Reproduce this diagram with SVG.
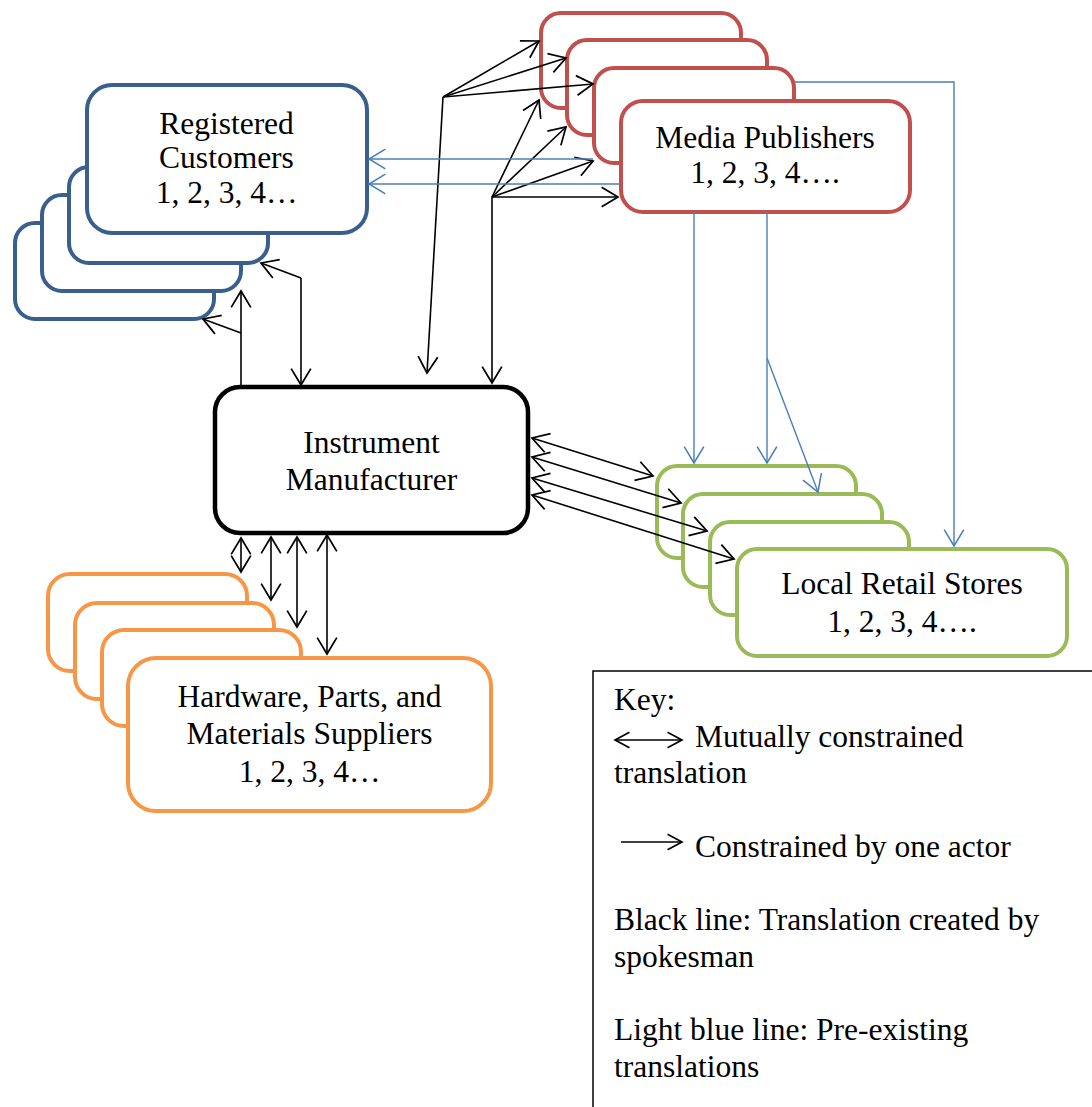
<svg xmlns="http://www.w3.org/2000/svg" width="1092" height="1107" viewBox="0 0 1092 1107">
<style>
.t{font-family:"Liberation Serif","Times New Roman",serif;font-size:31.5px;fill:#000;text-anchor:middle}
.k{font-family:"Liberation Serif","Times New Roman",serif;font-size:31.5px;fill:#000}
.blue{fill:#fff;stroke:#3A5F8D;stroke-width:4}
.red{fill:#fff;stroke:#C0504D;stroke-width:4}
.green{fill:#fff;stroke:#9BBB59;stroke-width:4}
.orange{fill:#fff;stroke:#F79646;stroke-width:4}
.blk{fill:none;stroke:#000;stroke-width:1.6}
.lb{fill:none;stroke:#4A7EBB;stroke-width:1.4}
</style>
<defs>
<marker id="ah" markerUnits="userSpaceOnUse" markerWidth="24" markerHeight="24" refX="0" refY="0" viewBox="-17 -11 19 22" orient="auto-start-reverse" overflow="visible">
<path d="M-15,-9 L0,0 L-15,9" fill="none" stroke="#000" stroke-width="1.6"/>
</marker>
<marker id="ahb" markerUnits="userSpaceOnUse" markerWidth="24" markerHeight="24" refX="0" refY="0" viewBox="-17 -11 19 22" orient="auto-start-reverse" overflow="visible">
<path d="M-15,-9 L0,0 L-15,9" fill="none" stroke="#4A7EBB" stroke-width="1.4"/>
</marker>
<marker id="ahk" markerUnits="userSpaceOnUse" markerWidth="20" markerHeight="20" refX="0" refY="0" viewBox="-15 -9 16 18" orient="auto-start-reverse" overflow="visible">
<path d="M-13,-7 L0,0 L-13,7" fill="none" stroke="#000" stroke-width="1.5"/>
</marker>
</defs>

<g id="registered-customers">
<rect class="blue" x="15" y="223" width="199" height="96" rx="20"/>
<rect class="blue" x="42" y="195" width="199" height="96" rx="20"/>
<rect class="blue" x="69" y="167" width="199" height="96" rx="20"/>
<rect class="blue" x="87" y="85" width="280" height="148" rx="25"/>
<text class="t" x="226.5" y="134">Registered</text>
<text class="t" x="226.5" y="168">Customers</text>
<text class="t" x="226.5" y="203">1, 2, 3, 4…</text>
</g>

<g id="media-publishers">
<rect class="red" x="541" y="13" width="200" height="95" rx="20"/>
<rect class="red" x="567" y="40" width="200" height="95" rx="20"/>
<rect class="red" x="594" y="68" width="200" height="95" rx="20"/>
<rect class="red" x="621" y="101" width="289" height="111" rx="22"/>
<text class="t" x="765" y="148">Media Publishers</text>
<text class="t" x="765" y="183">1, 2, 3, 4….</text>
</g>

<g id="local-retail-stores">
<rect class="green" x="657" y="466" width="199" height="92" rx="20"/>
<rect class="green" x="683" y="494" width="199" height="93" rx="20"/>
<rect class="green" x="710" y="522" width="199" height="93" rx="20"/>
<rect class="green" x="737" y="549" width="330" height="107" rx="20"/>
<text class="t" x="902" y="594">Local Retail Stores</text>
<text class="t" x="902" y="632">1, 2, 3, 4….</text>
</g>

<g id="suppliers">
<rect class="orange" x="48" y="574" width="199" height="97" rx="22"/>
<rect class="orange" x="75" y="603" width="199" height="96" rx="22"/>
<rect class="orange" x="102" y="630" width="199" height="96" rx="22"/>
<rect class="orange" x="128" y="658" width="363" height="153" rx="28"/>
<text class="t" x="309.5" y="707">Hardware, Parts, and</text>
<text class="t" x="309.5" y="744">Materials Suppliers</text>
<text class="t" x="309.5" y="782">1, 2, 3, 4…</text>
</g>

<g id="instrument-manufacturer">
<rect x="215" y="387" width="313" height="146" rx="25" fill="#fff" stroke="#000" stroke-width="4.5"/>
<text class="t" x="371.5" y="453">Instrument</text>
<text class="t" x="371.5" y="490">Manufacturer</text>
</g>

<g id="connectors">
<!-- registered customers -->
<path class="blk" d="M241,385 L241,291" marker-end="url(#ah)"/>
<path class="blk" d="M241,333 L203,319" marker-end="url(#ah)"/>
<path class="blk" d="M301,278 L261,263" marker-end="url(#ah)"/>
<path class="blk" d="M301,278 L301,385" marker-end="url(#ah)"/>
<!-- media publishers -->
<path class="blk" d="M443,97 L427,373" marker-end="url(#ah)"/>
<path class="blk" d="M443,97 L539,41" marker-end="url(#ah)"/>
<path class="blk" d="M443,97 L566,58" marker-end="url(#ah)"/>
<path class="blk" d="M443,97 L593,84" marker-end="url(#ah)"/>
<path class="blk" d="M492,197 L492,383" marker-end="url(#ah)"/>
<path class="blk" d="M492,197 L539,100" marker-end="url(#ah)"/>
<path class="blk" d="M492,197 L566,127" marker-end="url(#ah)"/>
<path class="blk" d="M492,197 L593,161" marker-end="url(#ah)"/>
<path class="blk" d="M492,197 L618,197" marker-end="url(#ah)"/>
<!-- retail stores -->
<path class="blk" d="M532,438 L653,476" marker-start="url(#ah)" marker-end="url(#ah)"/>
<path class="blk" d="M532,457 L681,503" marker-start="url(#ah)" marker-end="url(#ah)"/>
<path class="blk" d="M532,478 L707,531" marker-start="url(#ah)" marker-end="url(#ah)"/>
<path class="blk" d="M532,495 L734,559" marker-start="url(#ah)" marker-end="url(#ah)"/>
<!-- suppliers -->
<path class="blk" d="M241,538 L241,572" marker-start="url(#ah)" marker-end="url(#ah)"/>
<path class="blk" d="M271,537 L271,600" marker-start="url(#ah)" marker-end="url(#ah)"/>
<path class="blk" d="M297,537 L297,627" marker-start="url(#ah)" marker-end="url(#ah)"/>
<path class="blk" d="M327,535 L327,654" marker-start="url(#ah)" marker-end="url(#ah)"/>
<!-- pre-existing (blue) -->
<path class="lb" d="M593,159 L369,159" marker-end="url(#ahb)"/>
<path class="lb" d="M620,184 L369,184" marker-end="url(#ahb)"/>
<path class="lb" d="M694,212 L694,463" marker-end="url(#ahb)"/>
<path class="lb" d="M767,212 L767,463" marker-end="url(#ahb)"/>
<path class="lb" d="M767,358 L818,492" marker-end="url(#ahb)"/>
<path class="lb" d="M795,82 L954,82 L954,546" marker-end="url(#ahb)"/>
</g>

<g id="key">
<rect x="593" y="671" width="520" height="460" fill="none" stroke="#000" stroke-width="1.5"/>
<text class="k" x="614" y="710">Key:</text>
<path class="blk" d="M615,740 L682,740" stroke-width="1.5" marker-start="url(#ahk)" marker-end="url(#ahk)"/>
<text class="k" x="695" y="747">Mutually constrained</text>
<text class="k" x="614" y="783">translation</text>
<path class="blk" d="M621,842 L682,842" stroke-width="1.5" marker-end="url(#ahk)"/>
<text class="k" x="695" y="857">Constrained by one actor</text>
<text class="k" x="614" y="930">Black line: Translation created by</text>
<text class="k" x="614" y="967">spokesman</text>
<text class="k" x="614" y="1040">Light blue line: Pre-existing</text>
<text class="k" x="614" y="1077">translations</text>
</g>
</svg>
